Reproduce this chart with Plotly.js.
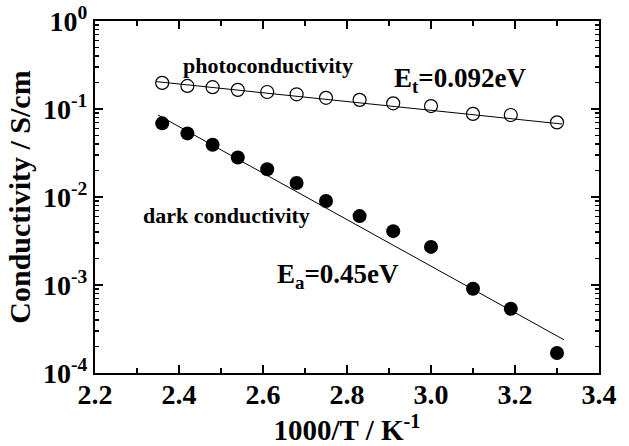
<!DOCTYPE html>
<html>
<head>
<meta charset="utf-8">
<script src="https://cdn.plot.ly/plotly-3.0.1.min.js"></script>
<style>html,body{margin:0;padding:0;background:#fff;}#chart{width:629px;height:446px;}</style>
</head>
<body>
<div id="chart"></div>
<script>
// 1000/T values (K^-1)
const invT = [2.36, 2.42, 2.48, 2.54, 2.61, 2.68, 2.75, 2.83, 2.91, 3.00, 3.10, 3.19, 3.30];
// photoconductivity (S/cm)
const photo = [0.198, 0.183, 0.177, 0.165, 0.156, 0.147, 0.134, 0.127, 0.116, 0.108, 0.088, 0.0855, 0.0705];
// dark conductivity (S/cm)
const dark = [0.0687, 0.0528, 0.0392, 0.0281, 0.0207, 0.0144, 0.0090, 0.00607, 0.00409, 0.00271, 0.000908, 0.000537, 0.000169];
// Arrhenius fit lines (endpoints)
const photoFitX = [2.345, 3.312];
const photoFitY = [0.205, 0.0675];
const darkFitX = [2.350, 3.317];
const darkFitY = [0.0855, 0.000238];
// tick labels
const xTicks = [2.2, 2.4, 2.6, 2.8, 3.0, 3.2, 3.4];
const xTickText = ['2.2', '2.4', '2.6', '2.8', '3.0', '3.2', '3.4'];
const yTicks = [1e-4, 1e-3, 1e-2, 1e-1, 1];
const yTickText = ['10<sup>-4</sup>', '10<sup>-3</sup>', '10<sup>-2</sup>', '10<sup>-1</sup>', '10<sup>0</sup>'];

const yMinor = [];
for (let e = -4; e < 0; e++) for (let m = 2; m <= 9; m++) yMinor.push(m * Math.pow(10, e));

const font = 'Liberation Serif, Times New Roman, serif';

const traces = [
  {x: photoFitX, y: photoFitY, mode: 'lines', line: {color: 'black', width: 1}, hoverinfo: 'skip'},
  {x: darkFitX, y: darkFitY, mode: 'lines', line: {color: 'black', width: 1}, hoverinfo: 'skip'},
  {x: invT, y: photo, mode: 'markers', marker: {symbol: 'circle-open', size: 13, color: 'black', line: {width: 1.2, color: 'black'}}},
  {x: invT, y: dark, mode: 'markers', marker: {symbol: 'circle', size: 14, color: 'black'}}
];

const layout = {
  width: 629, height: 446,
  margin: {l: 95, r: 30, t: 21, b: 73},
  showlegend: false,
  paper_bgcolor: '#fff', plot_bgcolor: '#fff',
  font: {family: font, color: 'black'},
  xaxis: {
    range: [2.2, 3.4], tickvals: xTicks, ticktext: xTickText,
    ticks: 'inside', ticklen: 8, tickwidth: 2, tickcolor: 'black',
    showline: true, linewidth: 2, linecolor: 'black', mirror: 'ticks',
    showgrid: false, zeroline: false, ticklabelstandoff: -5,
    tickfont: {family: font, size: 28, weight: 'bold'},
    minor: {dtick: 0.1, tick0: 2.2, ticks: 'inside', ticklen: 5, tickwidth: 2, tickcolor: 'black', showgrid: false},
    title: {text: '1000/T / K<sup>-1</sup>', font: {family: font, size: 29, weight: 'bold'}, standoff: 6}
  },
  yaxis: {
    type: 'log', range: [-4, 0], tickvals: yTicks, ticktext: yTickText,
    ticks: 'inside', ticklen: 8, tickwidth: 2, tickcolor: 'black',
    showline: true, linewidth: 2, linecolor: 'black', mirror: 'ticks',
    showgrid: false, zeroline: false,
    tickfont: {family: font, size: 28, weight: 'bold'},
    minor: {tickvals: yMinor, ticks: 'inside', ticklen: 4, tickwidth: 1.5, tickcolor: 'black', showgrid: false},
    title: {text: 'Conductivity / S/cm', font: {family: font, size: 30, weight: 'bold'}, standoff: 4}
  },
  annotations: [
    {x: 2.612, y: Math.log10(0.312), xref: 'x', yref: 'y', text: 'photoconductivity', showarrow: false,
     font: {family: font, size: 22, weight: 'bold'}},
    {x: 3.069, y: Math.log10(0.215), xref: 'x', yref: 'y', text: 'E<sub>t</sub>=0.092eV', showarrow: false,
     font: {family: font, size: 27, weight: 'bold'}},
    {x: 2.512, y: Math.log10(0.0062), xref: 'x', yref: 'y', text: 'dark conductivity', showarrow: false,
     font: {family: font, size: 22, weight: 'bold'}},
    {x: 2.779, y: Math.log10(0.00125), xref: 'x', yref: 'y', text: 'E<sub>a</sub>=0.45eV', showarrow: false,
     font: {family: font, size: 27, weight: 'bold'}}
  ]
};

Plotly.newPlot('chart', traces, layout, {staticPlot: true, displayModeBar: false});
</script>
</body>
</html>
